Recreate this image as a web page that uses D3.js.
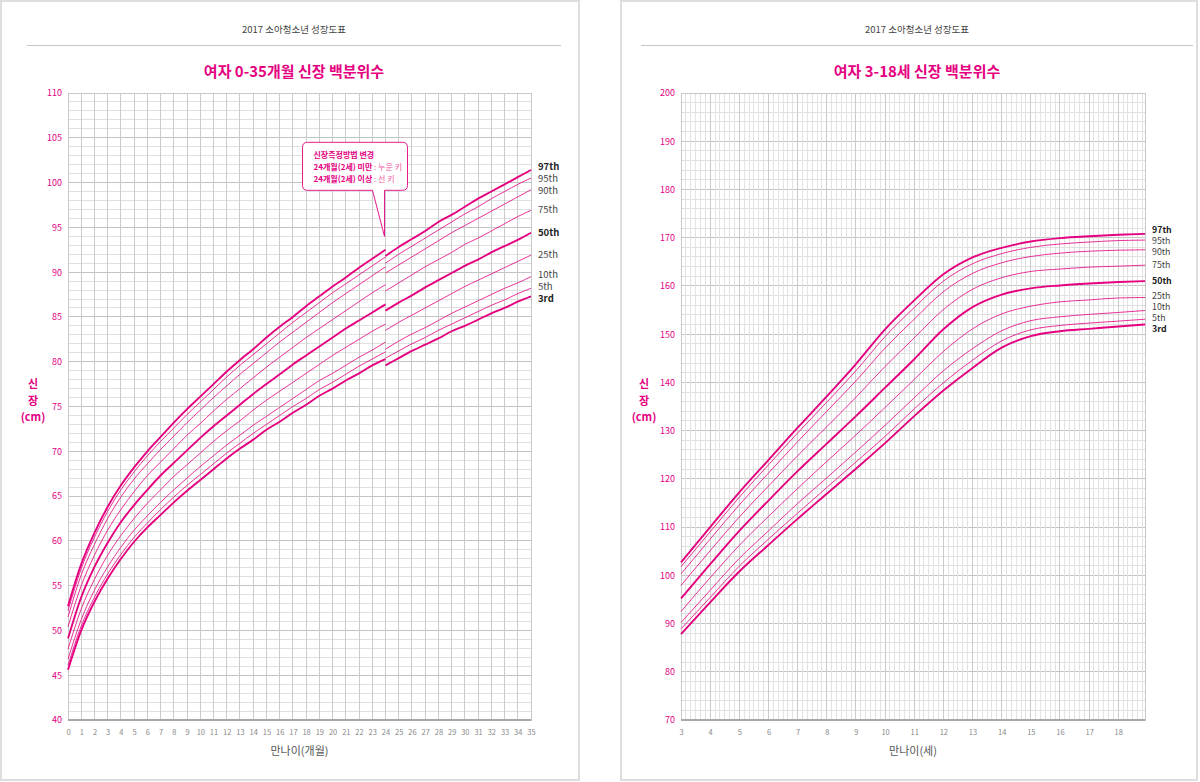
<!DOCTYPE html>
<html>
<head>
<meta charset="utf-8">
<script src="https://cdn.jsdelivr.net/npm/d3@7"></script>
<style>
  body { margin: 0; background: #fff; }
  text { font-family: "Noto Sans CJK KR", "Noto Sans", sans-serif; }
</style>
</head>
<body>
<script>
// percentile names (bottom to top)
const pctNames = ['3rd', '5th', '10th', '25th', '50th', '75th', '90th', '95th', '97th'];
const boldNames = ['3rd', '50th', '97th'];

// 0-24 months, lying length (cm)
const lyingMonths = [0,1,2,3,4,5,6,7,8,9,10,11,12,13,14,15,16,17,18,19,20,21,22,23,24];
const lyingP3  = [45.6,50.0,53.2,55.8,58.0,59.9,61.5,62.9,64.3,65.6,66.8,68.0,69.2,70.3,71.3,72.4,73.3,74.3,75.2,76.2,77.0,77.9,78.7,79.6,80.3];
const lyingP5  = [46.1,50.5,53.7,56.3,58.5,60.4,62.0,63.5,64.9,66.2,67.4,68.6,69.8,70.9,72.0,73.0,74.0,75.0,75.9,76.9,77.7,78.6,79.5,80.3,81.1];
const lyingP10 = [46.8,51.2,54.5,57.1,59.3,61.2,62.8,64.3,65.7,67.0,68.3,69.5,70.7,71.8,72.9,73.9,74.9,75.9,76.9,77.9,78.7,79.6,80.5,81.3,82.2];
const lyingP25 = [47.9,52.4,55.7,58.4,60.6,62.5,64.2,65.7,67.2,68.5,69.8,71.1,72.3,73.4,74.6,75.7,76.7,77.7,78.7,79.7,80.7,81.6,82.5,83.4,84.2];
const lyingP50 = [49.1,53.7,57.1,59.8,62.1,64.0,65.7,67.3,68.7,70.1,71.5,72.8,74.0,75.2,76.4,77.5,78.6,79.7,80.7,81.7,82.7,83.7,84.6,85.5,86.4];
const lyingP75 = [50.4,55.0,58.4,61.2,63.5,65.5,67.3,68.8,70.3,71.8,73.1,74.5,75.8,77.0,78.2,79.4,80.5,81.6,82.7,83.7,84.7,85.7,86.7,87.7,88.6];
const lyingP90 = [51.5,56.2,59.6,62.5,64.9,66.9,68.6,70.2,71.7,73.2,74.6,76.0,77.3,78.6,79.8,81.0,82.2,83.3,84.4,85.5,86.6,87.6,88.6,89.6,90.6];
const lyingP95 = [52.2,56.9,60.4,63.3,65.7,67.7,69.5,71.1,72.6,74.1,75.5,76.9,78.3,79.6,80.8,82.0,83.2,84.4,85.5,86.6,87.7,88.7,89.7,90.7,91.7];
const lyingP97 = [52.7,57.4,60.9,63.8,66.2,68.2,70.0,71.6,73.2,74.7,76.1,77.5,78.9,80.2,81.4,82.7,83.9,85.0,86.2,87.3,88.4,89.4,90.5,91.5,92.5];

// 24-35 months, standing height (cm)
const standMonths = [24,25,26,27,28,29,30,31,32,33,34,35];
const standP3  = [79.6,80.4,81.2,81.9,82.6,83.4,84.0,84.7,85.4,86.0,86.7,87.3];
const standP5  = [80.4,81.2,82.0,82.7,83.5,84.2,84.9,85.6,86.3,86.9,87.6,88.2];
const standP10 = [81.4,82.3,83.1,83.8,84.6,85.4,86.1,86.8,87.5,88.2,88.8,89.5];
const standP25 = [83.5,84.4,85.2,86.0,86.8,87.6,88.4,89.1,89.8,90.5,91.2,91.9];
const standP50 = [85.7,86.6,87.4,88.3,89.1,89.9,90.7,91.4,92.2,92.9,93.6,94.4];
const standP75 = [87.9,88.8,89.7,90.6,91.4,92.2,93.1,93.8,94.6,95.4,96.2,96.9];
const standP90 = [89.9,90.8,91.7,92.6,93.5,94.4,95.2,96.0,96.8,97.6,98.4,99.2];
const standP95 = [91.0,92.0,92.9,93.8,94.7,95.6,96.5,97.3,98.2,99.0,99.8,100.5];
const standP97 = [91.8,92.8,93.7,94.6,95.6,96.4,97.3,98.2,99.0,99.8,100.6,101.4];

// 3-18 years, height (cm)
const childAges = [3,4,5,6,7,8,9,10,11,12,13,14,15,16,17,18,18.92];
const childP3  = [87.8,94.4,100.8,106.3,111.7,116.9,122.1,127.4,133.0,138.3,143.0,147.2,149.6,150.6,151.1,151.6,152.0];
const childP5  = [88.9,95.4,101.9,107.5,112.9,118.2,123.5,128.8,134.5,139.9,144.6,148.6,150.9,151.8,152.3,152.7,153.1];
const childP10 = [90.2,96.9,103.5,109.2,114.9,120.2,125.6,131.1,136.8,142.4,147.0,150.7,152.8,153.6,154.1,154.5,154.9];
const childP25 = [92.5,99.5,106.2,112.2,118.0,123.6,129.1,134.8,140.6,146.4,151.1,154.2,155.8,156.7,157.1,157.5,157.6];
const childP50 = [95.2,102.3,109.2,115.5,121.6,127.3,133.0,138.9,144.8,151.0,155.6,158.2,159.5,160.1,160.5,160.8,161.0];
const childP75 = [97.9,105.1,112.1,118.5,124.8,130.8,136.9,143.3,149.2,155.1,159.3,161.7,163.0,163.5,163.9,164.1,164.3];
const childP90 = [100.3,107.5,114.6,121.2,127.7,134.0,140.3,147.1,153.1,158.8,162.6,164.8,166.1,166.8,167.2,167.4,167.5];
const childP95 = [101.8,109.0,116.2,122.9,129.5,135.9,142.4,149.5,155.5,161.0,164.6,166.7,168.0,168.7,169.1,169.4,169.5];
const childP97 = [102.7,110.0,117.2,123.9,130.6,137.1,143.8,151.0,157.0,162.4,165.9,167.9,169.2,169.9,170.3,170.6,170.8];

// tick labels
const infantXTicks = [0,1,2,3,4,5,6,7,8,9,10,11,12,13,14,15,16,17,18,19,20,21,22,23,24,25,26,27,28,29,30,31,32,33,34,35];
const infantYTicks = [40,45,50,55,60,65,70,75,80,85,90,95,100,105,110];
const childXTicks = [3,4,5,6,7,8,9,10,11,12,13,14,15,16,17,18];
const childYTicks = [70,80,90,100,110,120,130,140,150,160,170,180,190,200];

const PINK = '#e4007f';

const svg = d3.select('body').append('svg')
  .attr('width', 1200)
  .attr('height', 782);

// panel frames
[[1, 1, 578, 779], [621, 1, 576, 779]].forEach(r => {
  svg.append('rect')
    .attr('x', r[0]).attr('y', r[1]).attr('width', r[2]).attr('height', r[3])
    .attr('fill', '#fff').attr('stroke', '#dedede').attr('stroke-width', 2);
});

function spreadLabels(items, gap) {
  // push labels apart so they don't overlap
  items.sort((a, b) => a.y - b.y);
  for (let k = 0; k < 80; k++) {
    for (let i = 1; i < items.length; i++) {
      let d = items[i].y - items[i - 1].y;
      if (d < gap) {
        let m = (gap - d) / 2;
        items[i].y += m;
        items[i - 1].y -= m;
      }
    }
  }
  return items;
}

function drawPanel(opt) {
  const g = svg.append('g');
  const x = d3.scaleLinear().domain(opt.xDomain).range([opt.plotL, opt.plotR]);
  const y = d3.scaleLinear().domain(opt.yDomain).range([opt.plotB, opt.plotT]);
  const cx = (opt.ruleL + opt.ruleR) / 2;

  // header
  g.append('text').attr('x', cx).attr('y', 29)
    .attr('text-anchor', 'middle').attr('dominant-baseline', 'central')
    .attr('font-size', 9.5).attr('fill', '#444').text('2017 소아청소년 성장도표');
  g.append('line').attr('x1', opt.ruleL).attr('x2', opt.ruleR).attr('y1', 45.5).attr('y2', 45.5)
    .attr('stroke', '#c6c6c6').attr('stroke-width', 1);
  g.append('text').attr('x', cx).attr('y', 70)
    .attr('text-anchor', 'middle').attr('dominant-baseline', 'central')
    .attr('font-size', 15).attr('font-weight', 'bold').attr('fill', PINK).text(opt.title);

  // grid
  const grid = g.append('g').attr('shape-rendering', 'crispEdges');
  grid.selectAll('.hl').data(opt.hLines).enter().append('line')
    .attr('x1', opt.plotL).attr('x2', opt.plotR)
    .attr('y1', d => y(d)).attr('y2', d => y(d))
    .attr('stroke', d => opt.hMajor(d) ? '#c4c4c4' : '#e0e0e0').attr('stroke-width', 1);
  grid.selectAll('.vl').data(opt.vLines).enter().append('line')
    .attr('y1', opt.plotT).attr('y2', opt.plotB)
    .attr('x1', d => x(d)).attr('x2', d => x(d))
    .attr('stroke', d => opt.vMajor(d) ? '#cbcbcb' : '#e2e2e2').attr('stroke-width', 1);
  grid.append('rect').attr('x', opt.plotL).attr('y', opt.plotT)
    .attr('width', opt.plotR - opt.plotL).attr('height', opt.plotB - opt.plotT)
    .attr('fill', 'none').attr('stroke', '#c8c8c8');
  grid.append('line').attr('x1', opt.plotL).attr('x2', opt.plotR)
    .attr('y1', opt.plotB).attr('y2', opt.plotB).attr('stroke', '#a8a8a8').attr('stroke-width', 1.5);

  // axes
  const xAxis = g.append('g').attr('transform', `translate(0,${opt.plotB + 13})`)
    .call(d3.axisBottom(x).tickValues(opt.xTicks).tickSize(0).tickPadding(0).tickFormat(d3.format('d')));
  xAxis.select('.domain').remove();
  xAxis.selectAll('text').attr('font-size', 7.5).attr('fill', '#888').attr('dy', '0.32em')
    .attr('font-family', '"Noto Sans CJK KR", sans-serif');

  const yAxis = g.append('g').attr('transform', `translate(${opt.plotL - 6},0)`)
    .call(d3.axisLeft(y).tickValues(opt.yTicks).tickSize(0).tickPadding(0));
  yAxis.select('.domain').remove();
  yAxis.selectAll('text').attr('font-size', 9).attr('fill', PINK)
    .attr('font-family', '"Noto Sans CJK KR", sans-serif');

  g.append('text').attr('x', (opt.plotL + opt.plotR) / 2).attr('y', 750)
    .attr('text-anchor', 'middle').attr('dominant-baseline', 'central')
    .attr('font-size', 11).attr('fill', '#555').text(opt.xTitle);

  ['신', '장', '(cm)'].forEach((t, i) => {
    g.append('text').attr('x', opt.yTitleX).attr('y', 383 + i * 16.5)
      .attr('text-anchor', 'middle').attr('dominant-baseline', 'central')
      .attr('font-size', 11).attr('font-weight', 'bold').attr('fill', PINK).text(t);
  });

  // curves
  const line = d3.line().x(d => x(d[0])).y(d => y(d[1])).curve(d3.curveMonotoneX);
  opt.segments.forEach(seg => {
    seg.values.forEach((vals, i) => {
      const bold = boldNames.includes(pctNames[i]);
      g.append('path')
        .datum(seg.xs.map((v, j) => [v, vals[j]]))
        .attr('d', line)
        .attr('fill', 'none')
        .attr('stroke', PINK)
        .attr('stroke-opacity', bold ? 1 : 0.8)
        .attr('stroke-width', bold ? 1.9 : 1);
    });
  });

  // percentile labels at the end
  const last = opt.segments[opt.segments.length - 1];
  const labels = spreadLabels(pctNames.map((n, i) => ({
    name: n, y: y(last.values[i][last.values[i].length - 1]) - 1
  })), opt.labelGap);
  g.selectAll('.plabel').data(labels).enter().append('text')
    .attr('x', opt.plotR + 7).attr('y', d => d.y)
    .attr('dominant-baseline', 'central')
    .attr('font-size', opt.labelSize)
    .attr('font-weight', d => boldNames.includes(d.name) ? 'bold' : 'normal')
    .attr('fill', d => boldNames.includes(d.name) ? '#222' : '#444')
    .text(d => d.name);

  return { x, y, g };
}

// left: 0-35 months
const left = drawPanel({
  title: '여자 0-35개월 신장 백분위수',
  xTitle: '만나이(개월)',
  ruleL: 27, ruleR: 561,
  plotL: 68, plotR: 531, plotT: 93, plotB: 720,
  xDomain: [0, 35], yDomain: [40, 110],
  xTicks: infantXTicks, yTicks: infantYTicks,
  vLines: infantXTicks,
  vMajor: d => true,
  hLines: d3.range(40, 111, 1),
  hMajor: d => d % 5 === 0,
  yTitleX: 33,
  labelGap: 12.2,
  labelSize: 9.5,
  segments: [
    { xs: lyingMonths, values: [lyingP3, lyingP5, lyingP10, lyingP25, lyingP50, lyingP75, lyingP90, lyingP95, lyingP97] },
    { xs: standMonths, values: [standP3, standP5, standP10, standP25, standP50, standP75, standP90, standP95, standP97] }
  ]
});

// right: 3-18 years
drawPanel({
  title: '여자 3-18세 신장 백분위수',
  xTitle: '만나이(세)',
  ruleL: 641, ruleR: 1193,
  plotL: 681, plotR: 1145, plotT: 93, plotB: 720,
  xDomain: [3, 18 + 11 / 12], yDomain: [70, 200],
  xTicks: childXTicks, yTicks: childYTicks,
  vLines: d3.range(0, 96).map(i => 3 + i / 6),
  vMajor: d => Math.abs(d - Math.round(d)) < 1e-6,
  hLines: d3.range(70, 201, 2),
  hMajor: d => d % 10 === 0,
  yTitleX: 644,
  labelGap: 11,
  labelSize: 8.8,
  segments: [
    { xs: childAges, values: [childP3, childP5, childP10, childP25, childP50, childP75, childP90, childP95, childP97] }
  ]
});

// callout about measuring method change at 24 months
const tipX = left.x(24) - 1, tipY = left.y(94);
const bx = tipX - 82, by = tipY - 94, bw = 105, bh = 48, r = 5, px1 = tipX - 12;
const calloutPath = `M${bx + r},${by} H${bx + bw - r} Q${bx + bw},${by} ${bx + bw},${by + r}`
  + ` V${bh + by - r} Q${bx + bw},${by + bh} ${bx + bw - r},${by + bh} H${tipX} L${tipX},${tipY}`
  + ` L${px1},${by + bh} H${bx + r} Q${bx},${by + bh} ${bx},${by + bh - r} V${by + r} Q${bx},${by} ${bx + r},${by} Z`;
left.g.append('path').attr('d', calloutPath)
  .attr('fill', '#fff').attr('stroke', PINK).attr('stroke-width', 0.9);

const calloutLines = [
  ['신장측정방법 변경', ''],
  ['24개월(2세) 미만', ' : 누운 키'],
  ['24개월(2세) 이상', ' : 선 키']
];
calloutLines.forEach((ln, i) => {
  const t = left.g.append('text').attr('x', bx + 11).attr('y', by + 12 + i * 11.7)
    .attr('dominant-baseline', 'central').attr('font-size', 8);
  t.append('tspan').attr('font-weight', 'bold').attr('fill', PINK).text(ln[0]);
  if (ln[1]) t.append('tspan').attr('fill', '#ee5aa2').text(ln[1]);
});
</script>
</body>
</html>
